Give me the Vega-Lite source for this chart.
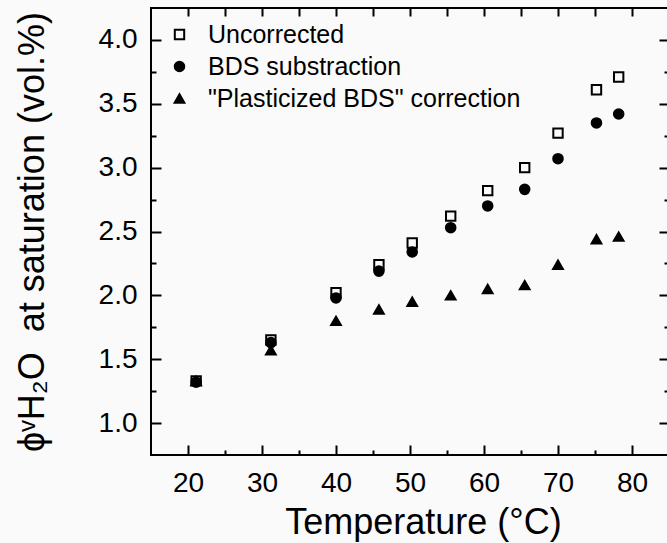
{
  "$schema": "https://vega.github.io/schema/vega-lite/v6.json",
  "width": 518,
  "height": 447,
  "autosize": {"type": "none"},
  "padding": {"left": 151, "top": 8, "right": 0, "bottom": 88},
  "background": "#fafafa",
  "config": {
    "font": "Liberation Sans",
    "view": {"stroke": "black", "strokeWidth": 2},
    "axis": {
      "grid": false,
      "domain": false,
      "tickColor": "black",
      "tickWidth": 2,
      "labelColor": "black",
      "titleColor": "black",
      "labelFontSize": 28,
      "titleFontSize": 36,
      "titleFontWeight": "normal",
      "labelFont": "Liberation Sans",
      "titleFont": "Liberation Sans"
    },
    "legend": {
      "padding": 0,
      "labelFontSize": 25,
      "labelFont": "Liberation Sans",
      "labelColor": "black",
      "labelLimit": 600,
      "symbolStrokeColor": "black",
      "symbolStrokeWidth": 2,
      "rowPadding": 6,
      "labelOffset": 16
    }
  },
  "data": {
    "values": [
      {"T": 21.1, "phi": 1.33, "series": "Uncorrected"},
      {"T": 31.2, "phi": 1.65, "series": "Uncorrected"},
      {"T": 40.0, "phi": 2.02, "series": "Uncorrected"},
      {"T": 45.8, "phi": 2.24, "series": "Uncorrected"},
      {"T": 50.3, "phi": 2.41, "series": "Uncorrected"},
      {"T": 55.5, "phi": 2.62, "series": "Uncorrected"},
      {"T": 60.5, "phi": 2.82, "series": "Uncorrected"},
      {"T": 65.5, "phi": 3.00, "series": "Uncorrected"},
      {"T": 70.0, "phi": 3.27, "series": "Uncorrected"},
      {"T": 75.2, "phi": 3.61, "series": "Uncorrected"},
      {"T": 78.2, "phi": 3.71, "series": "Uncorrected"},
      {"T": 21.1, "phi": 1.32, "series": "BDS substraction"},
      {"T": 31.2, "phi": 1.63, "series": "BDS substraction"},
      {"T": 40.0, "phi": 1.98, "series": "BDS substraction"},
      {"T": 45.8, "phi": 2.19, "series": "BDS substraction"},
      {"T": 50.3, "phi": 2.34, "series": "BDS substraction"},
      {"T": 55.5, "phi": 2.53, "series": "BDS substraction"},
      {"T": 60.5, "phi": 2.70, "series": "BDS substraction"},
      {"T": 65.5, "phi": 2.83, "series": "BDS substraction"},
      {"T": 70.0, "phi": 3.07, "series": "BDS substraction"},
      {"T": 75.2, "phi": 3.35, "series": "BDS substraction"},
      {"T": 78.2, "phi": 3.42, "series": "BDS substraction"},
      {"T": 21.1, "phi": 1.33, "series": "\"Plasticized BDS\" correction"},
      {"T": 31.2, "phi": 1.57, "series": "\"Plasticized BDS\" correction"},
      {"T": 40.0, "phi": 1.80, "series": "\"Plasticized BDS\" correction"},
      {"T": 45.8, "phi": 1.89, "series": "\"Plasticized BDS\" correction"},
      {"T": 50.3, "phi": 1.95, "series": "\"Plasticized BDS\" correction"},
      {"T": 55.5, "phi": 2.00, "series": "\"Plasticized BDS\" correction"},
      {"T": 60.5, "phi": 2.05, "series": "\"Plasticized BDS\" correction"},
      {"T": 65.5, "phi": 2.08, "series": "\"Plasticized BDS\" correction"},
      {"T": 70.0, "phi": 2.24, "series": "\"Plasticized BDS\" correction"},
      {"T": 75.2, "phi": 2.44, "series": "\"Plasticized BDS\" correction"},
      {"T": 78.2, "phi": 2.46, "series": "\"Plasticized BDS\" correction"}
    ]
  },
  "layer": [
    {
      "mark": {"type": "point", "strokeWidth": 2, "opacity": 1},
      "encoding": {
        "x": {
          "field": "T", "type": "quantitative",
          "scale": {"domain": [15, 85], "nice": false, "zero": false},
          "axis": {"orient": "bottom", "values": [20, 30, 40, 50, 60, 70, 80], "tickSize": -10, "labelPadding": 24, "title": "Temperature (°C)", "titlePadding": 8, "titleX": 272}
        },
        "y": {
          "field": "phi", "type": "quantitative",
          "scale": {"domain": [0.75, 4.25], "nice": false, "zero": false},
          "axis": {"orient": "left", "values": [1, 1.5, 2, 2.5, 3, 3.5, 4], "format": ".1f", "tickSize": -10, "labelPadding": 24, "title": "ϕᵛH₂O\u00a0\u00a0at saturation (vol.%)", "titlePadding": 47}
        },
        "shape": {
          "field": "series", "type": "nominal",
          "scale": {"domain": ["Uncorrected", "BDS substraction", "\"Plasticized BDS\" correction"], "range": ["square", "circle", "triangle-up"]},
          "legend": {"title": null, "orient": "none", "legendX": 16, "legendY": 14}
        },
        "fill": {
          "field": "series", "type": "nominal",
          "scale": {"domain": ["Uncorrected", "BDS substraction", "\"Plasticized BDS\" correction"], "range": ["transparent", "black", "black"]},
          "legend": {"title": null, "orient": "none", "legendX": 16, "legendY": 14}
        },
        "stroke": {
          "field": "series", "type": "nominal",
          "scale": {"domain": ["Uncorrected", "BDS substraction", "\"Plasticized BDS\" correction"], "range": ["black", "black", "black"]},
          "legend": {"title": null, "orient": "none", "legendX": 16, "legendY": 14}
        },
        "size": {
          "field": "series", "type": "nominal",
          "scale": {"domain": ["Uncorrected", "BDS substraction", "\"Plasticized BDS\" correction"], "range": [88, 95, 165]},
          "legend": {"title": null, "orient": "none", "legendX": 16, "legendY": 14}
        }
      }
    },
    {
      "mark": {"type": "point", "opacity": 0},
      "encoding": {
        "x": {"field": "T", "type": "quantitative", "axis": {"orient": "bottom", "values": [25, 35, 45, 55, 65, 75], "tickSize": -5, "labels": false, "title": null}},
        "y": {"field": "phi", "type": "quantitative", "axis": {"orient": "left", "values": [1.25, 1.75, 2.25, 2.75, 3.25, 3.75], "tickSize": -5, "labels": false, "title": null}}
      }
    },
    {
      "mark": {"type": "point", "opacity": 0},
      "encoding": {
        "x": {"field": "T", "type": "quantitative", "axis": {"orient": "top", "values": [20, 25, 30, 35, 40, 45, 50, 55, 60, 65, 70, 75, 80], "tickSize": -8, "labels": false, "title": null}},
        "y": {"field": "phi", "type": "quantitative", "axis": {"orient": "right", "values": [1, 1.5, 2, 2.5, 3, 3.5, 4], "tickSize": -10, "labels": false, "title": null}}
      }
    },
    {
      "mark": {"type": "point", "opacity": 0},
      "encoding": {
        "x": {"field": "T", "type": "quantitative", "axis": null},
        "y": {"field": "phi", "type": "quantitative", "axis": {"orient": "right", "values": [1.25, 1.75, 2.25, 2.75, 3.25, 3.75], "tickSize": -5, "labels": false, "title": null}}
      }
    }
  ],
  "resolve": {"axis": {"x": "independent", "y": "independent"}}
}
